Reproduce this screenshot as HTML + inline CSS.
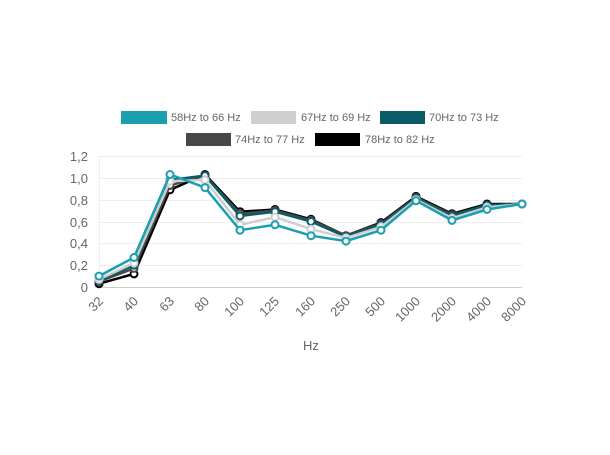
<!DOCTYPE html><html><head><style>body{margin:0;background:#fff}svg{font-family:"Liberation Sans",Arial,sans-serif}</style></head><body>
<svg width="610" height="450" xmlns="http://www.w3.org/2000/svg">
<g font-size="11" fill="#666">
<rect x="121" y="111" width="46" height="13" fill="#1a9fb0"/><text x="171" y="121">58Hz to 66 Hz</text>
<rect x="251" y="111" width="45" height="13" fill="#cfcfcf"/><text x="301" y="121">67Hz to 69 Hz</text>
<rect x="380" y="111" width="45" height="13" fill="#0b5c66"/><text x="429" y="121">70Hz to 73 Hz</text>
<rect x="186" y="133" width="45" height="13" fill="#484848"/><text x="235" y="143">74Hz to 77 Hz</text>
<rect x="315" y="133" width="45" height="13" fill="#000"/><text x="365" y="143">78Hz to 82 Hz</text>
</g>
<g stroke="#eee" stroke-width="1">
<line x1="99" x2="522" y1="156.5" y2="156.5"/><line x1="99" x2="522" y1="178.5" y2="178.5"/><line x1="99" x2="522" y1="200.5" y2="200.5"/><line x1="99" x2="522" y1="222.5" y2="222.5"/><line x1="99" x2="522" y1="243.5" y2="243.5"/><line x1="99" x2="522" y1="265.5" y2="265.5"/>
<line x1="99.5" x2="99.5" y1="156" y2="287"/>
</g>
<line x1="99" x2="522" y1="287.5" y2="287.5" stroke="#ccc"/>
<g font-size="13" fill="#666" text-anchor="end">
<text x="88" y="161">1,2</text><text x="88" y="183">1,0</text><text x="88" y="205">0,8</text><text x="88" y="227">0,6</text><text x="88" y="248">0,4</text><text x="88" y="270">0,2</text><text x="88" y="292">0</text>
</g>
<g font-size="13" fill="#666" text-anchor="end" id="xl"></g>
<text x="311" y="350" font-size="13" fill="#666" text-anchor="middle">Hz</text>
<g id="series" fill="none" stroke-width="2.5"></g>
<script>
var xs=[99,134,170,205,240,275,311,346,381,416,452,487,522];
var labs=["32","40","63","80","100","125","160","250","500","1000","2000","4000","8000"];
var xl=document.getElementById("xl"),ns="http://www.w3.org/2000/svg";
labs.forEach(function(l,i){var t=document.createElementNS(ns,"text");t.setAttribute("transform","translate("+(xs[i]+5)+",302) rotate(-45)");t.textContent=l;xl.appendChild(t);});
var S=[["#000",[.03,.12,.89,1.03,.69,.71,.62,.47,.59,.83,.67,.76,.76]],
["#484848",[.05,.17,.93,1.02,.67,.70,.61,.47,.58,.82,.66,.75,.76]],
["#0b5c66",[.06,.20,.98,1.02,.65,.69,.60,.46,.57,.81,.65,.75,.76]],
["#cfcfcf",[.07,.22,.97,.98,.57,.64,.53,.45,.55,.80,.63,.73,.76]],
["#1a9fb0",[.10,.27,1.03,.91,.52,.57,.47,.42,.52,.79,.61,.71,.76]]];
var g=document.getElementById("series");
S.forEach(function(s){var p=s[1].map(function(v,i){return xs[i]+","+(287-v*109.2).toFixed(1)}).join(" ");
var pl=document.createElementNS(ns,"polyline");pl.setAttribute("points",p);pl.setAttribute("stroke",s[0]);g.appendChild(pl);
s[1].forEach(function(v,i){var c=document.createElementNS(ns,"circle");c.setAttribute("cx",xs[i]);c.setAttribute("cy",(287-v*109.2).toFixed(1));c.setAttribute("r",3.5);c.setAttribute("fill","#fff");c.setAttribute("stroke",s[0]);c.setAttribute("stroke-width",2);g.appendChild(c);});});
</script>
</svg></body></html>
